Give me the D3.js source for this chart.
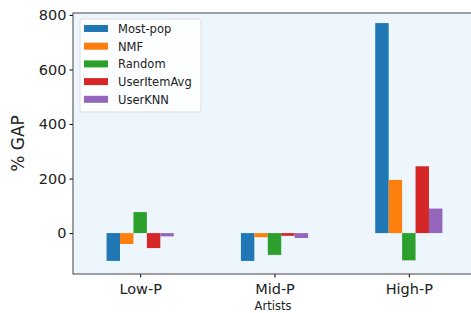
<!DOCTYPE html>
<html>
<head>
<meta charset="utf-8">
<script src="https://cdn.jsdelivr.net/npm/d3@7"></script>
<style>
  body { margin: 0; background: #fff; }
  text { font-family: "DejaVu Sans", sans-serif; fill: #222; }
</style>
</head>
<body>
<div id="chart"></div>
<script>
// data
var categories = ['Low-P', 'Mid-P', 'High-P'];
var series = ['Most-pop', 'NMF', 'Random', 'UserItemAvg', 'UserKNN'];
var mostPop = [-102, -102, 770];
var nmf = [-40, -15, 195];
var random = [77, -80, -100];
var userItemAvg = [-55, -10, 245];
var userKnn = [-12, -18, 90];
var yTicks = [0, 200, 400, 600, 800];
var colors = ['#1f77b4', '#ff7f0e', '#2ca02c', '#d62728', '#9467bd'];

var values = [mostPop, nmf, random, userItemAvg, userKnn];

var svgWidth = 471;
var svgHeight = 313;
var margin = { top: 13, right: -5, bottom: 39, left: 73 };
var width = svgWidth - margin.left - margin.right;
var height = svgHeight - margin.top - margin.bottom;

var svg = d3.select('#chart').append('svg')
  .attr('width', svgWidth)
  .attr('height', svgHeight);

var g = svg.append('g')
  .attr('transform', `translate(${margin.left}, ${margin.top})`);

// scales
var x = d3.scaleLinear().domain([-0.5, 2.5]).range([0, width]);
var y = d3.scaleLinear().domain([-150, 807]).range([height, 0]);
var barW = 0.1;

// background
g.append('rect')
  .attr('width', width)
  .attr('height', height)
  .attr('fill', '#eef6fd');

// bars
series.forEach(function(name, s) {
  g.selectAll('.bar' + s)
    .data(values[s])
    .enter()
    .append('rect')
    .attr('x', (d, i) => x(i - 0.25 + s * barW))
    .attr('width', x(barW) - x(0))
    .attr('y', d => y(Math.max(0, d)))
    .attr('height', d => Math.abs(y(d) - y(0)))
    .attr('fill', colors[s]);
});

// axes
var leftAxis = d3.axisLeft(y).tickValues(yTicks).tickSize(3.5).tickPadding(3);
var bottomAxis = d3.axisBottom(x).tickValues([0, 1, 2])
  .tickFormat(i => categories[i]).tickSize(3.5).tickPadding(6);

var yAxis = g.append('g').call(leftAxis);
yAxis.select('.domain').remove();
yAxis.selectAll('text').attr('font-size', 14.5).attr('fill', '#222');

var xAxis = g.append('g')
  .attr('transform', `translate(0, ${height})`)
  .call(bottomAxis);
xAxis.select('.domain').remove();
xAxis.selectAll('text').attr('font-size', 14.5).attr('fill', '#222');

// frame
g.append('rect')
  .attr('width', width)
  .attr('height', height)
  .attr('fill', 'none')
  .attr('stroke', '#444')
  .attr('stroke-width', 1);

// axis labels
svg.append('text')
  .attr('transform', `translate(24, ${margin.top + height / 2}) rotate(-90)`)
  .attr('text-anchor', 'middle')
  .attr('font-size', 17)
  .text('% GAP');

svg.append('text')
  .attr('x', 273)
  .attr('y', 310)
  .attr('text-anchor', 'middle')
  .attr('font-size', 11.5)
  .text('Artists');

// legend
var legend = g.append('g').attr('transform', 'translate(7, 6)');
legend.append('rect')
  .attr('width', 121)
  .attr('height', 93)
  .attr('rx', 2)
  .attr('fill', '#fff')
  .attr('fill-opacity', 0.85)
  .attr('stroke', '#ddd');

series.forEach(function(name, s) {
  var row = legend.append('g').attr('transform', `translate(4, ${5 + s * 17.7})`);
  row.append('rect')
    .attr('width', 24)
    .attr('height', 7)
    .attr('y', 1)
    .attr('fill', colors[s]);
  row.append('text')
    .attr('x', 34)
    .attr('y', 9)
    .attr('font-size', 11.5)
    .text(name);
});
</script>
</body>
</html>
